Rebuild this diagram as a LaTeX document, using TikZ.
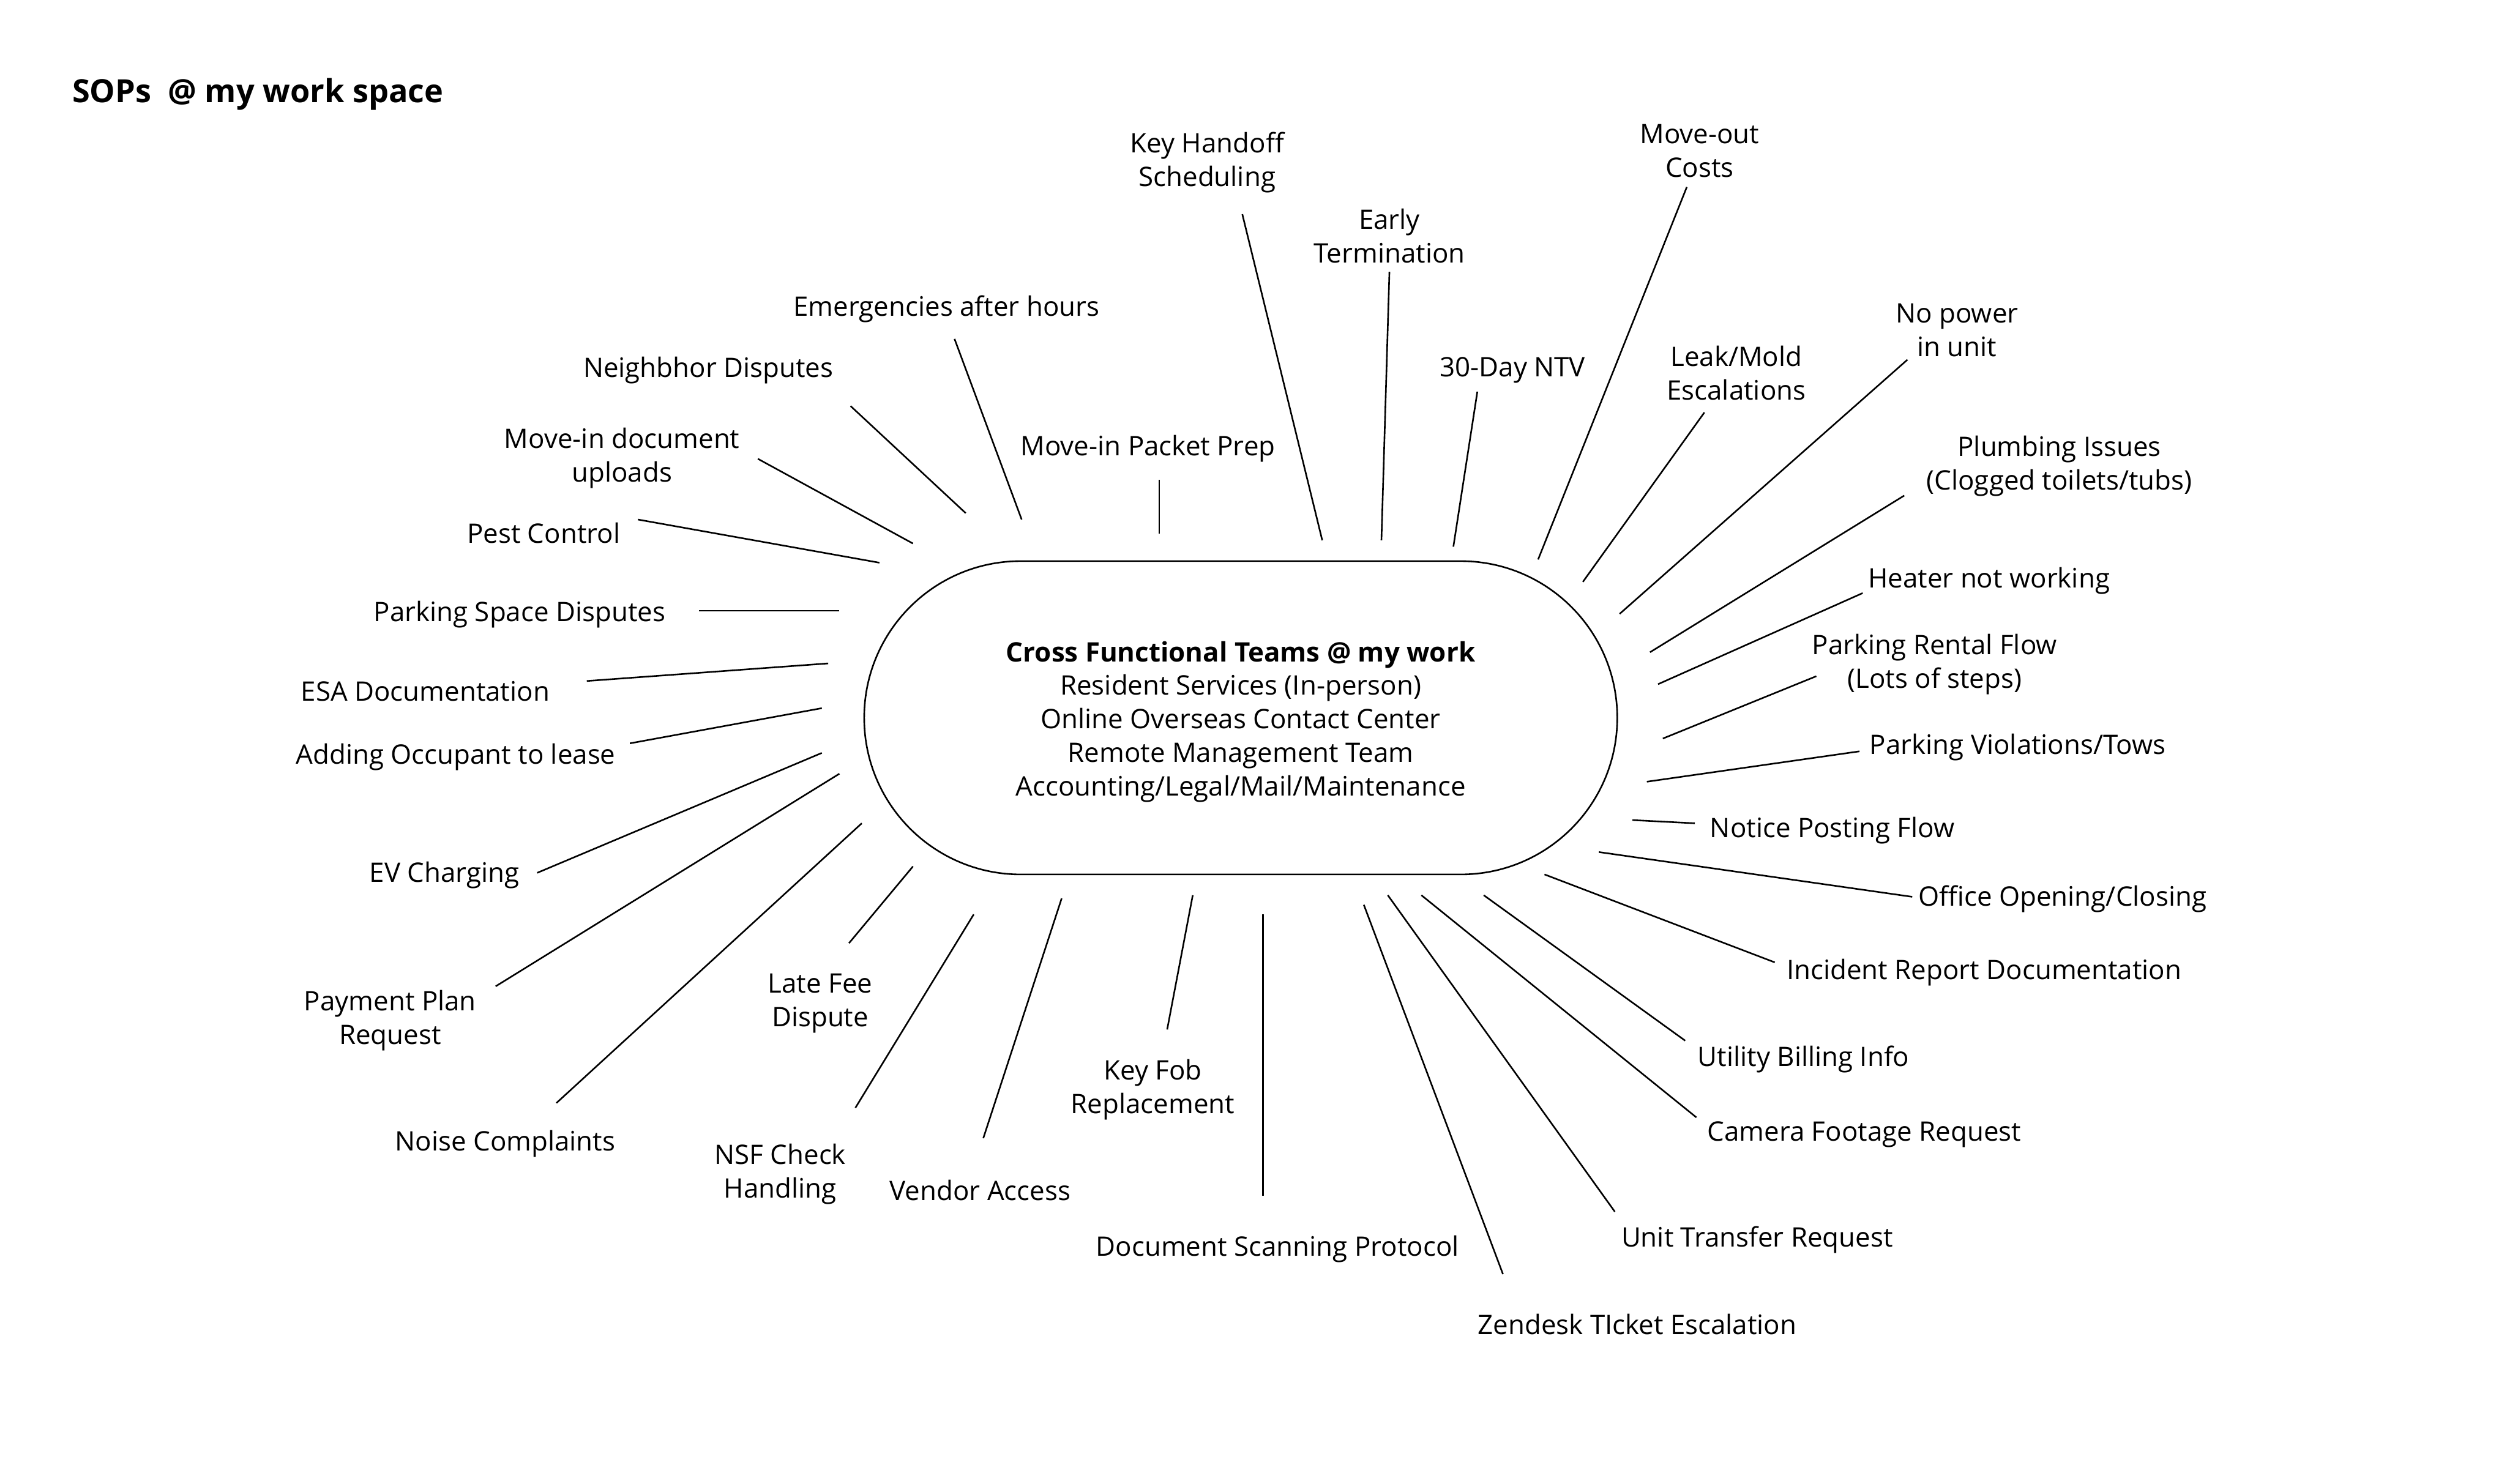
\documentclass[tikz,border=0pt]{standalone}
\usepackage{fontspec}
\setmainfont{Open Sans}
\usetikzlibrary{positioning}

\tikzset{
  lbl/.style={align=center, inner sep=0pt, yshift=-1.5pt, font=\fontsize{16.8}{21}\selectfont},
  spoke/.style={line width=1pt},
  hubbox/.style={draw, line width=1pt, rounded corners=97.9pt, minimum width=471pt,
    minimum height=196pt}
}

\begin{document}
\begin{tikzpicture}[x=1pt,y=-1pt]
\useasboundingbox (0,0) rectangle (1568,928);

%title
\node[anchor=west, inner sep=0pt, font=\fontsize{20}{21}\selectfont\bfseries] (title) at (45,59) {SOPs\ \ @ my work space};

%hub
\node[hubbox] (hub) at (776,449) {};
\node[lbl, yshift=-1pt] (hubtext) at (hub) {\textbf{Cross Functional Teams @ my work}\\Resident Services (In-person)\\Online Overseas Contact Center\\Remote Management Team\\Accounting/Legal/Mail/Maintenance};

%labels and spokes: name/x/y/text/inner end/outer end
\foreach \n/\x/\y/\t/\ax/\ay/\bx/\by in {
  keyhandoff/755/100/{Key Handoff\\Scheduling}/827/338/777/134,
  earlyterm/869/146/{Early\\Termination}/864/338/869/170,
  moveout/1063/93/{Move-out\\Costs}/962/350/1055/117,
  ntv/946/230/{30-Day NTV}/909/342/924/245,
  leak/1086/232/{Leak/Mold\\Escalations}/990/364/1066/258,
  nopower/1224/205/{No power\\in unit}/1013/384/1193/225,
  plumbing/1288/290/{Plumbing Issues\\(Clogged toilets/tubs)}/1032/408/1191/310,
  heater/1244/362/{Heater not working}/1037/428/1165/371,
  rental/1210/414/{Parking Rental Flow\\(Lots of steps)}/1040/462/1136/423,
  violations/1262/466/{Parking Violations/Tows}/1030/489/1163/470,
  notice/1146/518/{Notice Posting Flow}/1021/513/1060/515,
  office/1290/561/{Office Opening/Closing}/1000/533/1196/561,
  incident/1241/607/{Incident Report Documentation}/966/547/1110/602,
  utility/1128/661/{Utility Billing Info}/928/560/1054/651,
  camera/1166/708/{Camera Footage Request}/889/560/1061/699,
  transfer/1099/774/{Unit Transfer Request}/868/560/1010/758,
  zendesk/1024/827/{Zendesk TIcket Escalation}/853/566/940/797,
  scanning/799/780/{Document Scanning Protocol}/790/572/790/748,
  keyfob/721/680/{Key Fob\\Replacement}/746/560/730/644,
  vendor/613/743/{Vendor Access}/664/562/615/712,
  nsf/488/733/{NSF Check\\Handling}/609/572/535/693,
  latefee/513/626/{Late Fee\\Dispute}/571/542/531/590,
  noise/316/714/{Noise Complaints}/539/515/348/690,
  payment/244/637/{Payment Plan\\Request}/525/484/310/617,
  ev/278/546/{EV Charging}/514/471/336/546,
  occupant/285/472/{Adding Occupant to lease}/514/443/394/465,
  esa/266/431/{ESA Documentation}/518/415/367/426,
  parkspace/325/383/{Parking Space Disputes}/525/382/437/382,
  pest/340/332/{Pest Control}/550/352/399/325,
  moveindoc/389/285/{Move-in document\\uploads}/571/340/474/287,
  neighbor/443/230/{Neighbhor Disputes}/604/321/532/254,
  emergency/592/192/{Emergencies after hours}/639/325/597/212,
  packet/718/279/{Move-in Packet Prep}/725/334/725/300%
}{
  \node[lbl] (\n) at (\x,\y) {\t};
  \coordinate (\n-in) at (\ax,\ay);
  \coordinate (\n-out) at (\bx,\by);
  \draw[spoke] (\n-in) -- (\n-out);
}
\end{tikzpicture}
\end{document}
